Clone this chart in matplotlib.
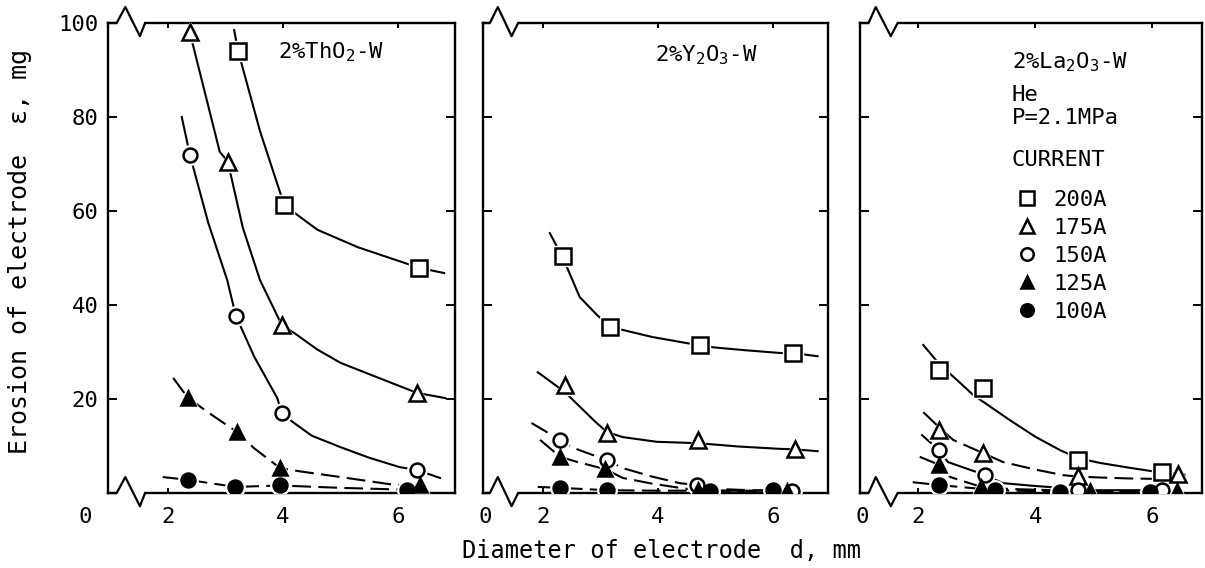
import matplotlib.pyplot as plt

plt.rcParams["font.family"] = ["DejaVu Sans Mono", "Liberation Mono"]
plt.rcParams["mathtext.fontset"] = "custom"
plt.rcParams["mathtext.rm"] = "DejaVu Sans Mono"
plt.rcParams["mathtext.it"] = "DejaVu Sans Mono"
plt.rcParams["mathtext.bf"] = "DejaVu Sans Mono"

# ---- data (d in mm, erosion in mg) ----
currents = ["200A", "175A", "150A", "125A", "100A"]

# 2%ThO2-W
tho2_d = [
    [3.22, 4.02, 6.37],
    [2.38, 3.04, 3.98, 6.33],
    [2.38, 3.18, 3.98, 6.33],
    [2.35, 3.2, 3.95, 6.38],
    [2.35, 3.17, 3.95, 6.15],
]
tho2_e = [
    [94, 61.3, 47.9],
    [98, 70.5, 35.7, 21.3],
    [72, 37.7, 17, 4.9],
    [20.2, 13.0, 5.3, 1.7],
    [2.8, 1.3, 1.7, 0.7],
]
tho2_curve_d = [
    [3.15, 3.22, 3.6, 4.02, 4.3, 4.6, 5.3, 6.37, 6.8],
    [2.38, 2.9, 3.04, 3.3, 3.6, 3.98, 4.2, 4.6, 5.0, 5.6, 6.33, 6.82],
    [2.24, 2.38, 2.7, 3.03, 3.18, 3.5, 3.9, 3.98, 4.17, 4.5, 4.99, 5.5, 6.03, 6.33, 6.73],
    [2.09, 2.35, 2.8, 3.2, 3.5, 3.95, 4.3, 5.0, 5.9, 6.38],
    [1.91, 2.35, 3.17, 3.95, 5.0, 6.15],
]
tho2_curve_e = [
    [98.5, 94, 77, 61.3, 58.7, 56.0, 52.3, 47.9, 46.8],
    [98, 72.6, 70.5, 56.5, 45.3, 35.7, 34, 30.5, 27.7, 24.8, 21.3, 20.2],
    [80, 72, 57.5, 45.3, 37.7, 29, 20.2, 17, 15.1, 12.2, 9.8, 7.5, 5.5, 4.9, 3.2],
    [24.5, 20.2, 16.3, 13.0, 9.5, 5.3, 4.6, 3.4, 1.8, 1.6],
    [3.4, 2.8, 1.3, 1.6, 1.1, 0.7],
]

# 2%Y2O3-W
y2o3_d = [
    [2.35, 3.17, 4.73, 6.35],
    [2.38, 3.11, 4.7, 6.38],
    [2.3, 3.11, 4.68, 6.33],
    [2.3, 3.08, 4.7, 6.25],
    [2.3, 3.11, 4.9, 6.0],
]
y2o3_e = [
    [50.4, 35.3, 31.5, 29.8],
    [23, 12.8, 11.2, 9.4],
    [11.3, 7.0, 1.7, 0.5],
    [7.7, 5.1, 0.6, 0.4],
    [1.1, 0.6, 0.5, 0.6],
]
y2o3_curve_d = [
    [2.12, 2.35, 2.64, 2.94, 3.17, 3.39, 3.9, 4.5, 4.73, 4.96, 5.5, 6.12, 6.35, 6.78],
    [1.91, 2.38, 2.9, 3.11, 3.39, 3.98, 4.7, 5.4, 6.12, 6.38, 6.78],
    [1.8, 2.3, 2.53, 3.11, 3.39, 3.9, 4.38, 4.68, 4.96, 5.6, 6.33],
    [1.95, 2.3, 2.6, 3.08, 3.39, 3.9, 4.38, 4.7, 5.5, 6.25],
    [1.91, 2.3, 3.11, 4.0, 4.9, 6.0, 6.33],
]
y2o3_curve_e = [
    [55.3, 50.0, 41.7, 37.9, 35.3, 34.7, 33.2, 31.9, 31.5, 31.0, 30.4, 29.8, 29.8, 29.1],
    [25.7, 21.5, 15.3, 13.0, 11.9, 10.9, 10.6, 9.9, 9.4, 9.3, 8.9],
    [14.9, 11.3, 9.6, 7.0, 5.3, 3.5, 2.1, 1.7, 0.9, 0.6, 0.5],
    [11.3, 7.7, 6.6, 5.1, 3.2, 2.0, 1.1, 0.6, 0.4, 0.4],
    [1.3, 1.1, 0.6, 0.5, 0.5, 0.5, 0.5],
]

# 2%La2O3-W
la2o3_d = [
    [2.36, 3.11, 4.74, 6.17],
    [2.36, 3.11, 4.74, 6.44],
    [2.36, 3.15, 4.74, 6.17],
    [2.36, 3.08, 4.94, 6.43],
    [2.36, 3.32, 4.43, 5.97],
]
la2o3_e = [
    [26.2, 22.3, 7.0, 4.5],
    [13.4, 8.5, 3.6, 4.0],
    [9.1, 3.8, 0.6, 0.6],
    [6.0, 1.3, 0.4, 0.4],
    [1.7, 0.6, 0.3, 0.3],
]
la2o3_curve_d = [
    [2.09, 2.36, 2.67, 2.94, 3.57, 4.0, 4.43, 4.74, 5.11, 5.6, 6.02, 6.17, 6.55],
    [2.09, 2.36, 2.6, 3.11, 3.45, 4.0, 4.48, 4.74, 5.11, 5.6, 6.1, 6.44, 6.65],
    [2.07, 2.36, 2.51, 3.15, 3.45, 4.0, 4.43, 4.74, 5.5, 6.17],
    [2.03, 2.36, 2.55, 3.08, 3.5, 4.0, 4.94, 5.6, 6.43],
    [1.91, 2.36, 3.32, 4.43, 5.97],
]
la2o3_curve_e = [
    [31.5, 27.5, 24.0, 20.9, 15.5, 12.0, 9.1, 7.4, 6.4, 5.4, 4.6, 4.4, 3.9],
    [17.2, 14.0, 11.3, 8.5, 6.6, 5.0, 3.8, 3.5, 3.3, 3.1, 3.0, 3.0, 2.9],
    [12.3, 9.1, 6.6, 3.8, 2.1, 1.5, 1.1, 0.6, 0.6, 0.6],
    [7.7, 6.0, 3.4, 1.3, 0.9, 0.7, 0.4, 0.4, 0.4],
    [2.3, 1.7, 0.6, 0.3, 0.3],
]

y_ticks = [20, 40, 60, 80, 100]
x_ticks = [2, 4, 6]

# ---- styles ----
marker_shapes = ["s", "^", "o", "^", "o"]
marker_filled = [False, False, False, True, True]
marker_sizes = [11, 11, 10, 10, 10]
dash = (0, (9, 3.5))
panel_styles = [
    ["-", "-", "-", dash, dash],
    ["-", "-", dash, dash, dash],
    ["-", dash, "-", dash, dash],
]

fig = plt.figure(figsize=(12.05, 5.68), dpi=100)
bottom, height = 0.132, 0.8275
ax1 = fig.add_axes([0.0896, bottom, 0.288, height])
ax2 = fig.add_axes([0.4008, bottom, 0.2863, height])
ax3 = fig.add_axes([0.7137, bottom, 0.2838, height])
axes = [ax1, ax2, ax3]
xlims = [(0.957, 6.99), (0.957, 6.96), (1.01, 6.85)]
zero_pos = [-0.066, 0.006, 0.006]
breaks = [
    [0.025, 0.05, 0.092, 0.107],
    [0.02, 0.043, 0.083, 0.102],
    [0.025, 0.046, 0.09, 0.11],
]

datasets = [
    (tho2_d, tho2_e, tho2_curve_d, tho2_curve_e),
    (y2o3_d, y2o3_e, y2o3_curve_d, y2o3_curve_e),
    (la2o3_d, la2o3_e, la2o3_curve_d, la2o3_curve_e),
]


def draw_break(ax, xs):
    x0, x1, x2, x3 = xs
    for yb in (0.0, 1.0):
        ax.plot([x0, x3], [yb, yb], color="white", lw=4, transform=ax.transAxes,
                clip_on=False, zorder=5, solid_capstyle="butt")
        ax.plot([0.0, x0, x1, x2, x3], [yb, yb, yb + 0.034, yb - 0.028, yb],
                color="black", lw=1.6, transform=ax.transAxes, clip_on=False,
                zorder=6)


legend_handles = []
for p, (ax, (md, me, cd, ce)) in enumerate(zip(axes, datasets)):
    for i in range(len(currents)):
        ax.plot(cd[i], ce[i], color="black", lw=1.5, ls=panel_styles[p][i], zorder=2)
        ax.plot(md[i], me[i], ls="none", marker=marker_shapes[i],
                ms=marker_sizes[i] + 4, color="white", zorder=3)
        h, = ax.plot(md[i], me[i], ls="none", marker=marker_shapes[i],
                     ms=marker_sizes[i], mec="black", mew=1.8,
                     mfc="black" if marker_filled[i] else "white",
                     label=currents[i], zorder=4)
        if p == 2:
            legend_handles.append(h)

    ax.set_xlim(*xlims[p])
    ax.set_ylim(0, 100)
    ax.set_xticks(x_ticks)
    ax.set_yticks(y_ticks)
    ax.tick_params(axis="both", direction="in", top=True, right=True,
                   width=1.4, labelsize=16)
    ax.tick_params(axis="y", length=6.5, pad=7)
    ax.tick_params(axis="x", length=3.5, pad=10)
    if p > 0:
        ax.set_yticklabels([])
    for s in ax.spines.values():
        s.set_linewidth(1.7)
    ax.text(zero_pos[p], -0.03, "0", transform=ax.transAxes, ha="center",
            va="top", fontsize=16)
    draw_break(ax, breaks[p])

ax1.text(0.49, 0.938, "2%ThO$_2$-W", transform=ax1.transAxes, fontsize=16,
         va="center")
ax2.text(0.499, 0.932, "2%Y$_2$O$_3$-W", transform=ax2.transAxes, fontsize=16,
         va="center")
ax3.text(0.444, 0.917, "2%La$_2$O$_3$-W", transform=ax3.transAxes, fontsize=16,
         va="center")
ax3.text(0.444, 0.847, "He", transform=ax3.transAxes, fontsize=16, va="center")
ax3.text(0.444, 0.798, "P=2.1MPa", transform=ax3.transAxes, fontsize=16,
         va="center")
ax3.text(0.444, 0.709, "CURRENT", transform=ax3.transAxes, fontsize=16,
         va="center")
ax3.legend(handles=legend_handles, loc="upper left", bbox_to_anchor=(0.455, 0.645),
           frameon=False, fontsize=16, handlelength=1.0, handletextpad=0.7,
           labelspacing=0.36, borderpad=0, borderaxespad=0, markerscale=0.9)

fig.text(0.017, 0.558, "Erosion of electrode  ε, mg", rotation=90, ha="center",
         va="center", fontsize=18)
fig.text(0.549, 0.03, "Diameter of electrode  d, mm", ha="center", va="center",
         fontsize=17)

fig.savefig("out.png", dpi=100)
